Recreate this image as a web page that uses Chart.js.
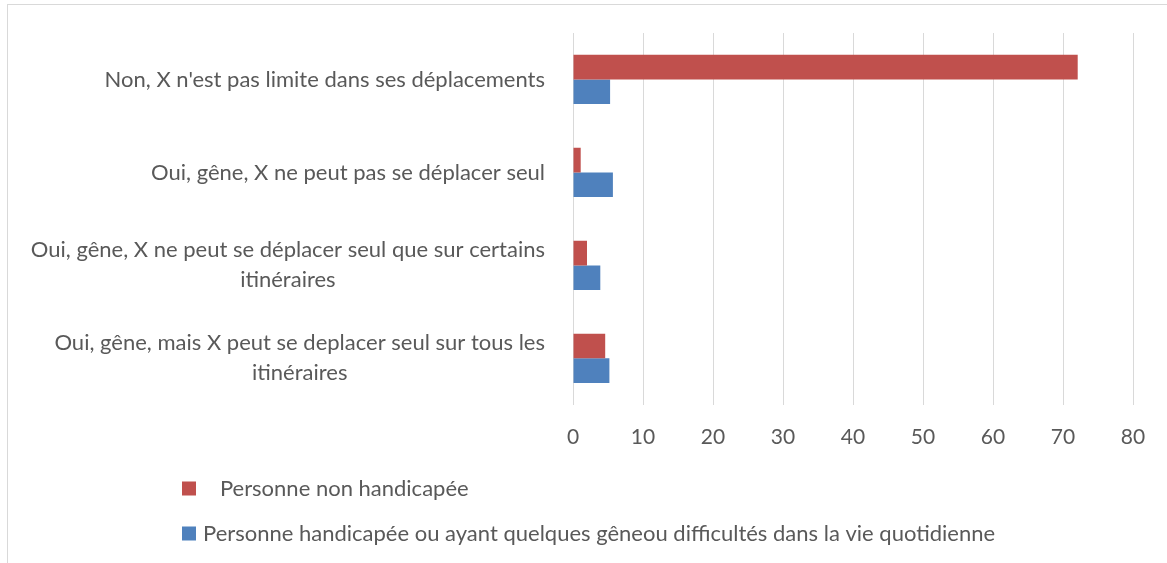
<!DOCTYPE html>
<html>
<head>
<meta charset="utf-8">
<script src="https://cdn.jsdelivr.net/npm/chart.js@4.4.1/dist/chart.umd.min.js"></script>
<style>
  body { margin: 0; background: #fff; }
  #wrap { position: relative; width: 1167px; height: 563px; overflow: hidden; }
  #frame { position: absolute; left: 7px; top: 4px; width: 1200px; height: 600px; border: 1px solid #d9d9d9; }
  #myChart { position: absolute; left: 0; top: 0; }
</style>
</head>
<body>
<div id="wrap">
  <div id="frame"></div>
  <canvas id="myChart" width="1167" height="563"></canvas>
</div>
<script>
// categories (top to bottom)
const categories = [
  "Non, X n'est pas limite dans ses déplacements",
  "Oui, gêne, X ne peut pas se déplacer seul",
  ["Oui, gêne, X ne peut se déplacer seul que sur certains", "itinéraires"],
  ["Oui, gêne, mais X peut se deplacer seul sur tous les", "itinéraires"]
];

// series values (%)
const nonHandicape = [72.1, 1.1, 2.0, 4.6];
const handicape = [5.3, 5.7, 3.9, 5.2];

const seriesNames = [
  "   Personne non handicapée",
  "Personne handicapée ou ayant quelques gêneou difficultés dans la vie quotidienne"
];

const xTicks = [0, 10, 20, 30, 40, 50, 60, 70, 80];

const fontFamily = "Lato";
const textColor = "#595959";

Chart.defaults.font.family = fontFamily;
Chart.defaults.color = textColor;

// draws the category labels (right aligned block, lines centered) and the legend
const labelsAndLegend = {
  id: 'labelsAndLegend',
  afterDraw(chart) {
    const ctx = chart.ctx;
    const yScale = chart.scales.y;
    ctx.save();
    ctx.font = "22px " + fontFamily;
    ctx.fillStyle = textColor;
    ctx.textBaseline = 'middle';
    ctx.textAlign = 'center';
    const rightEdge = 545;
    const lineH = 30;
    categories.forEach((lab, i) => {
      const lines = Array.isArray(lab) ? lab : [lab];
      const w = Math.max(...lines.map(l => ctx.measureText(l).width));
      const cy = yScale.getPixelForValue(i);
      lines.forEach((l, j) => {
        ctx.fillText(l, rightEdge - w / 2, cy + (j - (lines.length - 1) / 2) * lineH);
      });
    });

    // legend
    const legendY = [488.5, 533.5];
    ctx.textAlign = 'left';
    chart.data.datasets.forEach((ds, i) => {
      ctx.fillStyle = ds.backgroundColor;
      ctx.fillRect(182, legendY[i] - 7, 14, 14);
      ctx.fillStyle = textColor;
      ctx.fillText(ds.label, 203, legendY[i]);
    });
    ctx.restore();
  }
};

const ctx = document.getElementById('myChart');
new Chart(ctx, {
  type: 'bar',
  data: {
    labels: categories,
    datasets: [
      {
        label: seriesNames[0],
        data: nonHandicape,
        backgroundColor: '#C0504D',
        categoryPercentage: 0.53,
        barPercentage: 1
      },
      {
        label: seriesNames[1],
        data: handicape,
        backgroundColor: '#4F81BD',
        categoryPercentage: 0.53,
        barPercentage: 1
      }
    ]
  },
  options: {
    indexAxis: 'y',
    responsive: false,
    animation: false,
    layout: { padding: { left: 565, right: 34, top: 33, bottom: 93 } },
    plugins: {
      legend: { display: false },
      tooltip: { enabled: false }
    },
    scales: {
      x: {
        min: 0,
        max: 80,
        afterBuildTicks(scale) {
          scale.ticks = xTicks.map(v => ({ value: v }));
        },
        grid: { color: '#d9d9d9', lineWidth: 1, drawTicks: false },
        border: { display: false },
        ticks: { padding: 20, font: { size: 21 }, color: textColor }
      },
      y: {
        grid: { display: false },
        border: { display: false },
        ticks: { display: false }
      }
    }
  },
  plugins: [labelsAndLegend]
});
</script>
</body>
</html>
